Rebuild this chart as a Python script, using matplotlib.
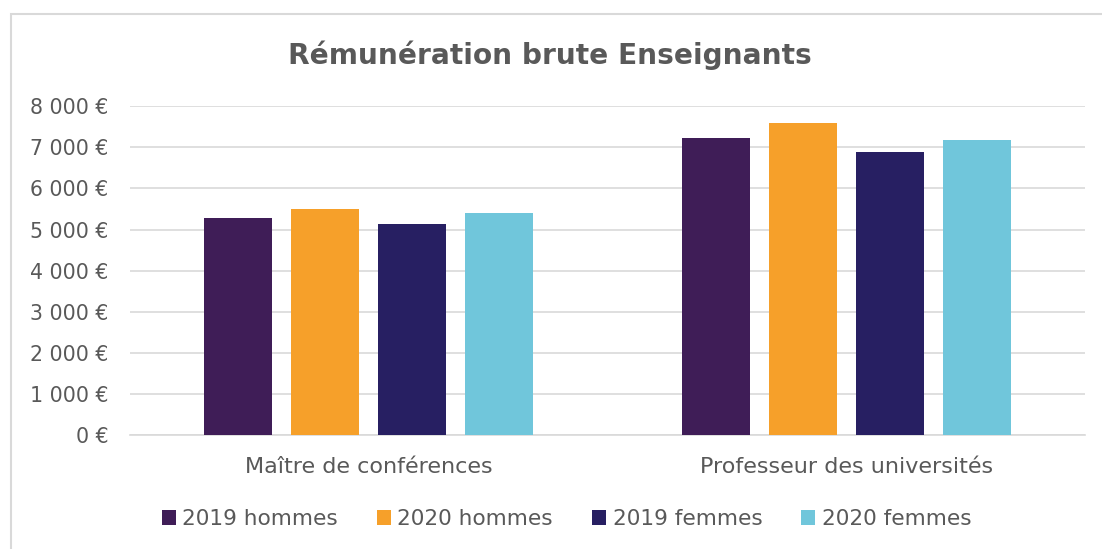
import numpy as np
import matplotlib.pyplot as plt
from matplotlib.patches import Rectangle
from matplotlib.ticker import FuncFormatter

categories = ['Maître de conférences', 'Professeur des universités']
series = ['2019 hommes', '2020 hommes', '2019 femmes', '2020 femmes']
hommes_2019 = [5270, 7240]
hommes_2020 = [5510, 7585]
femmes_2019 = [5125, 6880]
femmes_2020 = [5410, 7170]
values = [hommes_2019, hommes_2020, femmes_2019, femmes_2020]
colors = ['#3F1D57', '#F6A02A', '#271F62', '#70C6DB']

grey = '#595959'
plt.rcParams['font.family'] = ['DejaVu Sans']

fig = plt.figure(figsize=(11.02, 5.49), dpi=100)
ax = fig.add_axes([130 / 1102, 1 - 435 / 549, 955 / 1102, (435 - 106.3) / 549])

# chart border (cropped on right and bottom)
fig.patches.append(Rectangle((11 / 1102, -0.1), 1.2, 1 - 14 / 549 + 0.1,
                             transform=fig.transFigure, fill=False,
                             edgecolor='#D9D9D9', linewidth=1.5))

x = np.arange(len(categories))
width = 0.1424
step = 0.182
for i, (name, vals, c) in enumerate(zip(series, values, colors)):
    ax.bar(x + (i - 1.5) * step, vals, width, color=c, label=name, zorder=3)

ax.set_xlim(-0.5, 1.5)
ax.set_ylim(0, 8000)
ax.set_yticks(range(0, 8001, 1000))
ax.yaxis.set_major_formatter(FuncFormatter(
    lambda v, p: '{:,.0f} €'.format(v).replace(',', ' ')))
ax.grid(axis='y', color='#D9D9D9', linewidth=1.2, zorder=0)
for s in ['top', 'right', 'left']:
    ax.spines[s].set_visible(False)
ax.spines['bottom'].set_color('#D9D9D9')
ax.spines['bottom'].set_linewidth(1.2)
ax.set_xticks(x)
ax.set_xticklabels(categories)
ax.tick_params(axis='both', length=0, colors=grey)
ax.tick_params(axis='y', pad=15.5, labelsize=14.8)
ax.tick_params(axis='x', pad=16, labelsize=16)

fig.text(0.499, 1 - 55 / 549, 'Rémunération brute Enseignants', ha='center',
         va='center', fontsize=20.2, fontweight='bold', color=grey)

leg = fig.legend(loc='center', bbox_to_anchor=(0.514, 1 - 519 / 549), ncol=4,
                 frameon=False, fontsize=15.6, handlelength=0.65, handleheight=0.65,
                 handletextpad=0.3, columnspacing=1.8)
for t in leg.get_texts():
    t.set_color(grey)

fig.savefig('out.png', dpi=100)
